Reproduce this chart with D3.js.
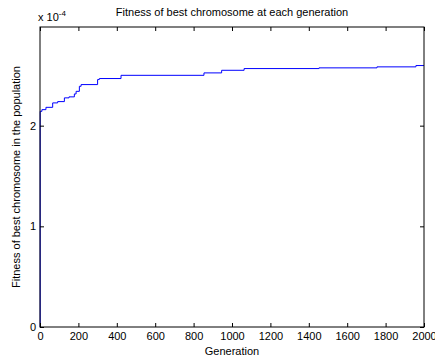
<!DOCTYPE html>
<html>
<head>
<meta charset="utf-8">
<script src="https://cdn.jsdelivr.net/npm/d3@7"></script>
<style>
  body { margin: 0; background: white; }
  text { font-family: "Liberation Sans", Arial, sans-serif; }
</style>
</head>
<body>
<div id="chart"></div>
<script>
// Dades llegides de la figura (fitness en unitats de 1e-4)
const generations = [0, 1, 10, 31, 66, 92, 127, 151, 179, 188, 205, 214, 300, 309, 422, 854, 946, 1063, 1453, 1755, 1958, 2000];
const fitness = [0, 2.142, 2.159, 2.182, 2.226, 2.239, 2.276, 2.286, 2.315, 2.341, 2.391, 2.408, 2.458, 2.468, 2.50, 2.524, 2.55, 2.567, 2.574, 2.584, 2.597, 2.597];
const xTicks = [0, 200, 400, 600, 800, 1000, 1200, 1400, 1600, 1800, 2000];
const yTicks = [0, 1, 2];

const data = generations.map((g, i) => ({ g: g, f: fitness[i] }));

const W = 435, H = 356;
const margin = { top: 27, right: 11, bottom: 29, left: 40 };
const width = W - margin.left - margin.right;
const height = H - margin.top - margin.bottom;

const svg = d3.select("#chart")
    .append("svg")
        .attr("width", W)
        .attr("height", H);

const g = svg.append("g")
    .attr("transform", `translate(${margin.left}, ${margin.top})`);

const x = d3.scaleLinear().domain([0, 2000]).range([0, width]);
const y = d3.scaleLinear().domain([0, 2.98]).range([height, 0]);

// Línia
const line = d3.line()
    .x(d => x(d.g))
    .y(d => y(d.f))
    .curve(d3.curveStepAfter);

g.append("path")
    .datum(data)
    .attr("fill", "none")
    .attr("stroke", "#0000ff")
    .attr("stroke-width", 1)
    .attr("d", line);

// Eixos (ticks cap a dins, estil caixa)
function styleAxis(sel) {
    sel.select(".domain").remove();
    sel.selectAll("text")
        .style("font-size", "11px")
        .style("fill", "#000");
    sel.selectAll("line").attr("stroke", "#000");
}

g.append("g")
    .attr("transform", `translate(0, ${height})`)
    .call(d3.axisBottom(x).tickValues(xTicks).tickFormat(d3.format("d")).tickSizeInner(-4).tickSizeOuter(0).tickPadding(5))
    .call(styleAxis);

g.append("g")
    .call(d3.axisTop(x).tickValues(xTicks).tickSizeInner(-4).tickSizeOuter(0).tickFormat(""))
    .call(styleAxis);

g.append("g")
    .call(d3.axisLeft(y).tickValues(yTicks).tickFormat(d3.format("d")).tickSizeInner(-4).tickSizeOuter(0).tickPadding(4))
    .call(styleAxis);

g.append("g")
    .attr("transform", `translate(${width}, 0)`)
    .call(d3.axisRight(y).tickValues(yTicks).tickSizeInner(-4).tickSizeOuter(0).tickFormat(""))
    .call(styleAxis);

// Caixa
g.append("rect")
    .attr("x", 0)
    .attr("y", 0)
    .attr("width", width)
    .attr("height", height)
    .attr("fill", "none")
    .attr("stroke", "#000")
    .attr("stroke-width", 1);

// Títol
svg.append("text")
    .attr("x", margin.left + width / 2)
    .attr("y", 16)
    .attr("text-anchor", "middle")
    .style("font-size", "11px")
    .text("Fitness of best chromosome at each generation");

// Multiplicador x 10^-4
const mult = svg.append("text")
    .attr("x", 38)
    .attr("y", 21)
    .style("font-size", "11px")
    .text("x 10");
mult.append("tspan")
    .attr("dy", -5)
    .style("font-size", "8px")
    .text("-4");

// Títol eix X
svg.append("text")
    .attr("x", margin.left + width / 2)
    .attr("y", 355)
    .attr("text-anchor", "middle")
    .style("font-size", "11px")
    .text("Generation");

// Títol eix Y
svg.append("text")
    .attr("transform", `translate(20, ${margin.top + height / 2}) rotate(-90)`)
    .attr("text-anchor", "middle")
    .style("font-size", "11px")
    .text("Fitness of best chromosome in the population");
</script>
</body>
</html>
